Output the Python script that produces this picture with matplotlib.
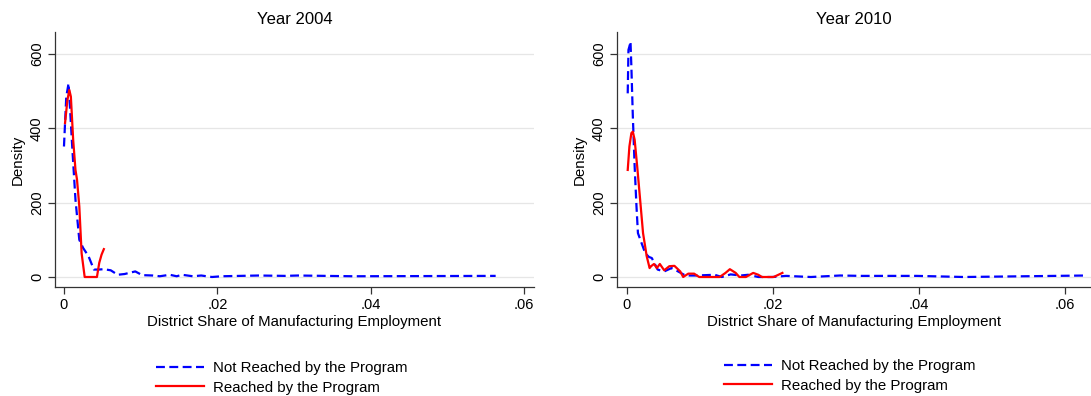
import numpy as np
import matplotlib.pyplot as plt

plt.rcParams['font.family'] = ['Liberation Sans', 'DejaVu Sans']

# kernel density traces read per year
share_04_not = [0.0, 0.0003, 0.0006, 0.0008, 0.0011, 0.0015, 0.002, 0.0025, 0.0032, 0.0039,
                0.0045, 0.0052, 0.0061, 0.007, 0.0079, 0.0093, 0.0102, 0.0116, 0.0125, 0.0138,
                0.0147, 0.0154, 0.0168, 0.0179, 0.0193, 0.0206, 0.0254, 0.0288, 0.0305, 0.0377,
                0.0563]
dens_04_not = [351, 485, 521, 450, 342, 208, 100, 78, 56, 20,
               20, 21, 18, 6, 8, 15, 5, 4, 2, 6,
               2, 6, 2, 4, 0, 2, 4, 3, 4, 2,
               3]
share_04_yes = [0.00014, 0.00045, 0.0007, 0.0009, 0.0012, 0.0015, 0.0017, 0.002, 0.0023, 0.0027,
                0.0043, 0.0046, 0.0049, 0.0052]
dens_04_yes = [414, 476, 503, 485, 369, 288, 262, 190, 64, 0,
               0, 38, 60, 75]

share_10_not = [0.0001, 0.0002, 0.00033, 0.00048, 0.0006, 0.0008, 0.00105, 0.0013, 0.0015, 0.002,
                0.0025, 0.003, 0.0034, 0.0042, 0.0051, 0.0061, 0.007, 0.008, 0.0094, 0.0108,
                0.012, 0.013, 0.0142, 0.0156, 0.0166, 0.018, 0.0199, 0.0218, 0.0252, 0.0292,
                0.0321, 0.0397, 0.0462, 0.0629]
dens_10_not = [494, 611, 620, 633, 566, 432, 297, 190, 118, 91,
               64, 54, 51, 20, 15, 24, 15, 4, 4, 5,
               6, 0, 7, 4, 6, 0, 0, 3, 0, 4,
               3, 3, 0, 4]
share_10_yes = [0.0001, 0.00033, 0.0006, 0.0008, 0.00105, 0.0014, 0.0018, 0.0022, 0.0027, 0.0031,
                0.0033, 0.0037, 0.0041, 0.0045, 0.0051, 0.0058, 0.0065, 0.0073, 0.0077, 0.0084,
                0.0092, 0.0099, 0.0127, 0.0135, 0.0141, 0.0149, 0.0154, 0.0163, 0.0173, 0.018,
                0.0185, 0.0201, 0.0213]
dens_10_yes = [288, 351, 387, 391, 369, 297, 208, 118, 56, 24,
               29, 35, 24, 35, 18, 29, 30, 15, 0, 9,
               9, 0, 0, 11, 21, 11, 0, 0, 11, 6,
               0, 0, 11]

panels = [
    ('Year 2004', share_04_not, dens_04_not, share_04_yes, dens_04_yes),
    ('Year 2010', share_10_not, dens_10_not, share_10_yes, dens_10_yes),
]
xticks = [0, 0.02, 0.04, 0.06]
xtick_labels = ['0', '.02', '.04', '.06']
yticks = [0, 200, 400, 600]

fig = plt.figure(figsize=(10.91, 3.96), dpi=100)
boxes = [[55 / 1091, 109 / 396, 479 / 1091, 255 / 396],
         [617 / 1091, 109 / 396, 474 / 1091, 255 / 396]]
xlims = [(-0.00117, 0.0613), (-0.00137, 0.0636)]
leg_pos = [(282 / 1091, 18 / 396), (850 / 1091, 20 / 396)]

for i, (title, xn, yn, xy, yy) in enumerate(panels):
    ax = fig.add_axes(boxes[i])
    ax.plot(xn, yn, color='#0000ff', lw=1.6, linestyle=(0, (4, 2)),
            label='Not Reached by the Program')
    ax.plot(xy, yy, color='#ff0000', lw=1.6, label='Reached by the Program')
    ax.set_xlim(*xlims[i])
    ax.set_ylim(-26.9, 659)
    ax.set_xticks(xticks)
    ax.set_xticklabels(xtick_labels)
    ax.set_yticks(yticks)
    ax.set_yticklabels([str(t) for t in yticks], rotation=90, va='center')
    ax.grid(axis='y', color='#e6e6e6', lw=0.9)
    ax.set_axisbelow(True)
    for s in ['top', 'right']:
        ax.spines[s].set_visible(False)
    for s in ['left', 'bottom']:
        ax.spines[s].set_color('#333333')
        ax.spines[s].set_linewidth(0.9)
    ax.tick_params(length=5, width=0.9, color='#333333', labelsize=10.5, pad=3)
    ax.set_title(title, fontsize=12, pad=6)
    ax.set_xlabel('District Share of Manufacturing Employment', fontsize=10.8, labelpad=2)
    ax.set_ylabel('Density', fontsize=10.8, labelpad=4)
    ax.legend(loc='center', bbox_to_anchor=leg_pos[i], bbox_transform=fig.transFigure,
              frameon=False, fontsize=10.8, handlelength=3.2, handletextpad=0.6,
              labelspacing=0.35)

fig.savefig('out.png', dpi=100)
